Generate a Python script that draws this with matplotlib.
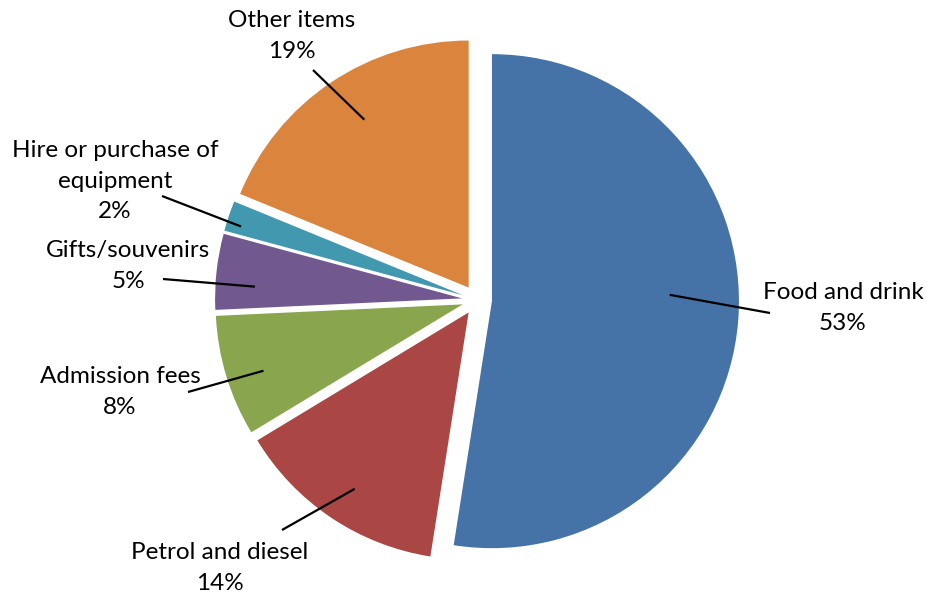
import numpy as np
import matplotlib
matplotlib.use("Agg")
import matplotlib.pyplot as plt

categories = ["Food and drink", "Petrol and diesel", "Admission fees",
              "Gifts/souvenirs", "Hire or purchase of\nequipment", "Other items"]
shares = [53, 14, 8, 5, 2, 19]
colors = ["#4572A7", "#AA4643", "#89A54E", "#71588F", "#4198AF", "#DB843D"]

# label layout (pixel coordinates, y measured downward)
label_pos = [(843, 308), (220, 568), (120, 392), (128, 266), (115, 181), (292, 36)]
leader_end = [(770, 313), (282, 530), (188, 392), (163, 279), (162, 196), (313, 70)]
leader_frac = [0.72, 0.85, 0.85, 0.84, 0.94, 0.80]
leader_dang = [6.5, 1.0, 1.5, 3.0, 1.5, -2.0]

W, H = 928, 597
RADIUS = 247
fig = plt.figure(figsize=(W / 100, H / 100), dpi=100)
ax = fig.add_axes([0, 0, 1, 1])

wedges, _ = ax.pie(shares, colors=colors, startangle=90, counterclock=False,
                   radius=RADIUS, center=(477, -300), explode=[15] * len(shares),
                   wedgeprops=dict(linewidth=0, antialiased=True))
ax.set_xlim(0, W)
ax.set_ylim(-H, 0)
ax.set_aspect("equal")
ax.axis("off")

for w, name, val, lp, le, fr, da in zip(wedges, categories, shares, label_pos,
                                         leader_end, leader_frac, leader_dang):
    mid = np.deg2rad((w.theta1 + w.theta2) / 2 + da)
    cx, cy = w.center
    sx = cx + fr * w.r * np.cos(mid)
    sy = cy + fr * w.r * np.sin(mid)
    ax.plot([sx, le[0]], [sy, -le[1]], color="black", lw=1.6,
            solid_capstyle="butt", zorder=3)
    ax.text(lp[0], -lp[1], f"{name}\n{val}%", ha="center", va="center",
            fontsize=17.5, family="Lato", linespacing=1.58, color="black")

fig.savefig("out.png", dpi=100)
